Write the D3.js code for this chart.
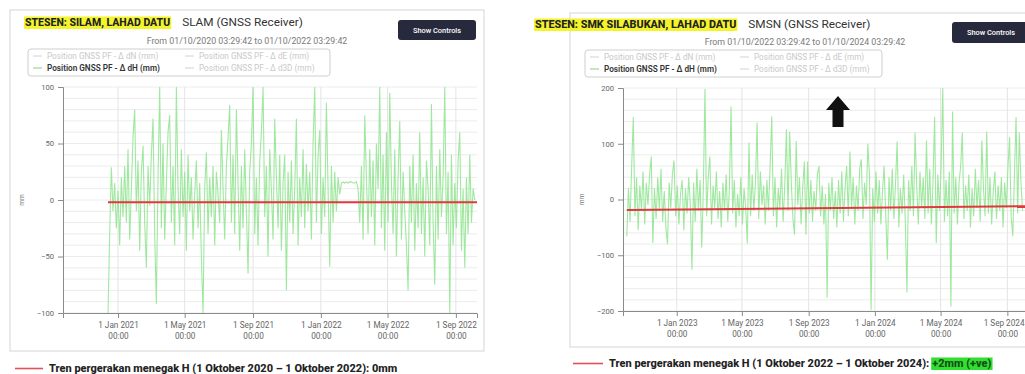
<!DOCTYPE html>
<html><head><meta charset="utf-8">
<script src="https://cdn.jsdelivr.net/npm/d3@7"></script>
<style>
html,body{margin:0;padding:0;background:#fff;}
svg{display:block;font-family:Roboto,"Open Sans",sans-serif;}
</style></head><body>
<svg id="c" width="1025" height="374"></svg>
<script>
// ---- SILAM station (SLAM), vertical displacement dH in mm, one reading every 3 days ----
const slamStart = "2020-12-14";
const slamStepDays = 3;
const slamDH = [
  -100, -30, 29, -10, 15, -25, 8, -40, 20, -15,
  30, -20, 45, -35, 10, 55, 80, -10, 35, -45,
  25, 48, -20, -60, 30, -5, 40, 72, -30, -92,
  20, 100, -25, 50, -35, 15, 60, 75, -20, 30,
  -40, 100, 10, -30, 45, -15, 25, -45, 40, -10,
  20, -35, 5, 35, -25, 15, -50, -100, 10, 42,
  -30, 20, -15, 30, -40, 25, 5, -20, 62, 10,
  -35, 30, 55, 84, -20, 40, -30, 80, 15, -45,
  30, -25, 45, -10, -65, 25, 50, 100, -30, 20,
  -40, 35, 60, 100, -15, 30, -50, 45, 10, -35,
  72, 20, -25, 40, -45, 15, 40, -80, 25, -20,
  35, -30, 10, 72, -40, 20, -15, 45, -25, 32,
  -10, 25, -35, 50, 100, -20, 40, 62, -30, 20,
  -15, 86, 10, -59, 30, -20, 25, -10, 20, 5,
  15, 16, 15, 16, 15, 16, 16, 15, 15, 16,
  10, -20, 30, -35, 75, 20, -30, 45, -15, 35,
  -40, 50, 10, 100, -25, 40, -45, 60, -20, 95,
  15, -30, 45, -50, 20, 70, -35, 25, -10, -40,
  -80, 30, -20, 40, -45, 15, -25, 60, -30, 20,
  -50, 35, 10, -40, 85, -20, -75, 30, -35, 45,
  -15, 20, 100, -30, 25, -100, 40, -40, 15, -25,
  35, 60, -45, 10, -60, 20, -30, 40, -20, 10,
  0
];
const slamTrendDates = ["2020-12-14", "2022-10-09"];
const slamTrend = [-2, -2];
const slamDomain = ["2020-09-24", "2022-10-09"];
const slamXTicks = ["2021-01-01", "2021-05-01", "2021-09-01", "2022-01-01", "2022-05-01", "2022-09-01"];
const slamYTicks = [-100, -50, 0, 50, 100];

// ---- SMK Silabukan station (SMSN) ----
const smsnStart = "2022-10-01";
const smsnStepDays = 3;
const smsnDH = [
  -66, 20, -40, 60, 148, -30, 40, -55, 25, -20,
  50, -45, 30, -10, 45, 77, -78, 20, -35, 40,
  -20, 55, -40, 15, -50, -80, 30, -15, 45, 70,
  -30, 25, -45, 10, 35, -55, 20, -25, 40, -10,
  -126, 30, -40, 55, -20, 35, -86, 20, 198, -30,
  40, 77, -45, 25, -15, 50, -35, 15, -50, 30,
  -20, 45, -40, 20, 167, -25, 35, -50, 10, -30,
  40, -45, 20, -15, -79, 102, -30, 45, -20, 30,
  138, -35, 50, -10, 25, -45, 35, -20, 60, 149,
  -30, 40, -50, 20, -15, 55, -40, 25, 126, -20,
  122, 30, -35, -63, 105, -10, 40, -45, 20, 68,
  -63, 68, -25, 35, -40, 15, -20, 45, 60, -30,
  25, -45, 10, -176, 30, -20, 40, -35, 15, -50,
  35, -25, 50, -40, 20, 60, -30, 86, -15, 40,
  -45, 25, -20, 55, 72, -35, 30, -10, 100, 45,
  -198, 20, -40, 50, -25, 35, -45, 15, 60, -30,
  -108, 40, -20, 55, -35, 30, 104, -50, 20, -25,
  45, -40, -167, 35, -20, 60, -30, 120, 25, -45,
  50, -15, 40, -35, 106, -25, 55, -45, 30, 148,
  -78, 45, -20, 60, 200, -40, 35, -30, 50, -192,
  158, -25, 40, -45, 30, 60, 120, -35, 25, -20,
  45, -50, 20, -30, 55, -15, 35, -40, 106, 20,
  -30, 122, -25, 40, -45, 15, 50, -35, 25, -20,
  40, -50, 30, -15, 55, 112, -30, -66, 45, 148,
  -25, 120, 30, -20
];
const smsnTrendDates = ["2022-10-01", "2024-10-09"];
const smsnTrend = [-19, -12];
const smsnDomain = ["2022-09-24", "2024-10-09"];
const smsnXTicks = ["2023-01-01", "2023-05-01", "2023-09-01", "2024-01-01", "2024-05-01", "2024-09-01"];
const smsnYTicks = [-200, -100, 0, 100, 200];

const legendLabels = [
  "Position GNSS PF - Δ dN (mm)", "Position GNSS PF - Δ dE (mm)",
  "Position GNSS PF - Δ dH (mm)", "Position GNSS PF - Δ d3D (mm)"
];
const activeLegend = 2;

const parse = d3.utcParse("%Y-%m-%d");
const svg = d3.select("#c");
const FONT = "Roboto,'Open Sans',sans-serif";
const W = 1025;

function series(start, step, vals) {
  const t0 = parse(start);
  return vals.map((v, i) => ({ date: d3.utcDay.offset(t0, i * step), v }));
}

function highlightText(g, x, y, txt, size, weight, bg, color) {
  const t = g.append("text").attr("x", x).attr("y", y)
    .attr("font-size", size).attr("font-weight", weight)
    .attr("fill", color).text(txt);
  const b = t.node().getBBox();
  g.insert("rect", () => t.node())
    .attr("x", b.x - 1).attr("y", b.y + 0.5).attr("width", b.width + 2).attr("height", b.height - 0.5)
    .attr("fill", bg);
  return b;
}

function panel(cfg) {
  const g = svg.append("g");
  // card
  g.append("rect").attr("x", cfg.card[0]).attr("y", cfg.card[1])
    .attr("width", cfg.card[2]).attr("height", cfg.card[3])
    .attr("fill", "#fff").attr("stroke", "#dcdcdc").attr("stroke-width", 1.2);

  // headings
  const hb = highlightText(g, cfg.titleX, cfg.titleY, cfg.station, cfg.titleSize, 800, "#f4f42a", "#222");
  g.append("text").attr("x", hb.x + hb.width + 12).attr("y", cfg.titleY)
    .attr("font-size", 11.8).attr("fill", "#333").text(cfg.receiver);
  g.append("text").attr("x", cfg.fromX).attr("y", cfg.fromY).attr("text-anchor", "middle")
    .attr("font-size", 8.8).attr("fill", "#7a7a7a").text(cfg.fromText);

  // button
  g.append("rect").attr("x", cfg.btn[0]).attr("y", cfg.btn[1]).attr("width", cfg.btn[2]).attr("height", cfg.btn[3])
    .attr("rx", 3).attr("fill", "#272a3d");
  g.append("text").attr("x", cfg.btn[0] + 39).attr("y", cfg.btn[1] + cfg.btn[3] / 2 + 2.6)
    .attr("text-anchor", "middle").attr("font-size", 7.4).attr("font-weight", 500)
    .attr("fill", "#fff").text("Show Controls");

  // legend box
  const L = cfg.legend;
  g.append("rect").attr("x", L[0]).attr("y", L[1]).attr("width", L[2]).attr("height", L[3])
    .attr("rx", 3).attr("fill", "none").attr("stroke", "#cfcfcf");
  legendLabels.forEach((lab, i) => {
    const col = i % 2, row = Math.floor(i / 2);
    const lx = L[0] + 5 + col * cfg.legendCol, ly = L[1] + 10 + row * 12;
    const on = i === activeLegend;
    g.append("line").attr("x1", lx).attr("x2", lx + 9).attr("y1", ly - 3).attr("y2", ly - 3)
      .attr("stroke", on ? "#9ad69a" : "#d8d8d8").attr("stroke-width", 1.2);
    g.append("text").attr("x", lx + 14).attr("y", ly).attr("font-size", 8.2)
      .attr("font-weight", on ? 600 : 400)
      .attr("fill", on ? "#333" : "#c9c9c9").text(lab);
  });

  // scales
  const x = d3.scaleUtc().domain(cfg.domain.map(parse)).range([cfg.plot.left, cfg.plot.right]);
  const y = d3.scaleLinear().domain(cfg.yDomain).range([cfg.plot.bottom, cfg.plot.top]);

  // grid
  const grid = g.append("g");
  grid.selectAll("line.h").data(d3.range(cfg.yDomain[0], cfg.yDomain[1] + 0.1, cfg.gridStep))
    .join("line").attr("x1", cfg.plot.left).attr("x2", cfg.plot.right)
    .attr("y1", d => y(d)).attr("y2", d => y(d)).attr("stroke", "#ececec").attr("stroke-width", 1);
  const xt = cfg.xTicks.map(parse);
  grid.selectAll("line.v").data(xt).join("line")
    .attr("x1", d => x(d)).attr("x2", d => x(d)).attr("y1", cfg.plot.top).attr("y2", cfg.plot.bottom)
    .attr("stroke", "#e4e4e4");

  // clip
  const cid = "clip" + cfg.id;
  svg.append("clipPath").attr("id", cid).append("rect")
    .attr("x", cfg.plot.left).attr("y", cfg.plot.top - 1)
    .attr("width", cfg.plot.right - cfg.plot.left).attr("height", cfg.plot.bottom - cfg.plot.top + 1);

  const data = series(cfg.start, cfg.step, cfg.values);
  g.append("path").datum(data).attr("clip-path", `url(#${cid})`)
    .attr("fill", "none").attr("stroke", "#8fe48f").attr("stroke-width", 1.1).attr("stroke-opacity", 0.85)
    .attr("d", d3.line().x(d => x(d.date)).y(d => y(d.v)));

  const trend = cfg.trendDates.map((d, i) => ({ date: parse(d), v: cfg.trend[i] }));
  g.append("path").datum(trend).attr("clip-path", `url(#${cid})`)
    .attr("fill", "none").attr("stroke", "#e0383c").attr("stroke-width", 2)
    .attr("d", d3.line().x(d => x(d.date)).y(d => y(d.v)));

  // axes
  const yAxis = g.append("g").attr("transform", `translate(${cfg.plot.left},0)`)
    .call(d3.axisLeft(y).tickValues(cfg.yTicks).tickSize(5).tickPadding(4));
  yAxis.select(".domain").attr("stroke", "#8a8a8a");
  yAxis.selectAll(".tick line").attr("stroke", "#8a8a8a");
  yAxis.selectAll(".tick text").attr("font-size", 7.6).attr("fill", "#666").attr("font-family", FONT);

  const xAxis = g.append("g").attr("transform", `translate(0,${cfg.plot.bottom})`)
    .call(d3.axisBottom(x).tickValues(xt).tickSize(5).tickPadding(4).tickFormat(d3.utcFormat("%-d %b %Y")));
  xAxis.select(".domain").attr("stroke", "#8a8a8a");
  xAxis.selectAll(".tick line").attr("stroke", "#8a8a8a");
  xAxis.selectAll(".tick text").attr("font-size", 8.2).attr("fill", "#666").attr("font-family", FONT);
  xAxis.selectAll(".tick").append("text").attr("y", 20).attr("dy", "0.71em")
    .attr("fill", "#666").attr("font-size", 8.2).attr("font-family", FONT)
    .text("00:00");
  // keep tick labels inside the page edge
  xAxis.selectAll(".tick").each(function (d) {
    const tx = x(d);
    d3.select(this).selectAll("text").each(function () {
      const w = this.getComputedTextLength();
      const over = tx + w / 2 - (W - 1);
      if (over > 0) d3.select(this).attr("x", -over);
    });
  });

  g.append("text").attr("transform", `translate(${cfg.plot.left - 39},${y(0)}) rotate(-90)`)
    .attr("text-anchor", "middle").attr("font-size", 6.5).attr("fill", "#777").text("mm");

  // trend caption
  g.append("line").attr("x1", cfg.capLine[0]).attr("x2", cfg.capLine[1])
    .attr("y1", cfg.capY - 3.5).attr("y2", cfg.capY - 3.5).attr("stroke", "#e2505a").attr("stroke-width", 1.6);
  const cap = g.append("text").attr("x", cfg.capLine[1] + 6).attr("y", cfg.capY)
    .attr("font-size", 11).attr("font-weight", 800).attr("fill", "#222").text(cfg.caption);
  if (cfg.captionTag) {
    const cb = cap.node().getBBox();
    highlightText(g, cb.x + cb.width + 3, cfg.capY, cfg.captionTag, 11, 800, "#2fe02f", "#1a4a1a");
  }
  return { x, y };
}

panel({
  id: "slam", card: [10, 10, 474, 341],
  station: "STESEN: SILAM, LAHAD DATU", receiver: "SLAM (GNSS Receiver)",
  titleX: 25, titleY: 26, titleSize: 10.5,
  fromText: "From 01/10/2020 03:29:42 to 01/10/2022 03:29:42", fromX: 247, fromY: 44,
  btn: [398, 20, 78, 20],
  legend: [28, 49, 302, 27], legendCol: 152,
  plot: { left: 63, right: 477, top: 87, bottom: 313 },
  domain: slamDomain, yDomain: [-100, 100], gridStep: 10,
  xTicks: slamXTicks, yTicks: slamYTicks,
  start: slamStart, step: slamStepDays, values: slamDH,
  trendDates: slamTrendDates, trend: slamTrend,
  capLine: [15, 43], capY: 372,
  caption: "Tren pergerakan menegak H (1 Oktober 2020 – 1 Oktober 2022): 0mm"
});

panel({
  id: "smsn", card: [570, 13, 470, 334],
  station: "STESEN: SMK SILABUKAN, LAHAD DATU", receiver: "SMSN (GNSS Receiver)",
  titleX: 535, titleY: 28, titleSize: 10.8,
  fromText: "From 01/10/2022 03:29:42 to 01/10/2024 03:29:42", fromX: 805, fromY: 45,
  btn: [952, 22, 80, 21],
  legend: [585, 50, 297, 27], legendCol: 150,
  plot: { left: 623, right: 1028, top: 88, bottom: 311 },
  domain: smsnDomain, yDomain: [-200, 200], gridStep: 20,
  xTicks: smsnXTicks, yTicks: smsnYTicks,
  start: smsnStart, step: smsnStepDays, values: smsnDH,
  trendDates: smsnTrendDates, trend: smsnTrend,
  capLine: [573, 603], capY: 367,
  caption: "Tren pergerakan menegak H (1 Oktober 2022 – 1 Oktober 2024):",
  captionTag: "+2mm (+ve)"
});

// upward-movement marker
const arrow = d3.path();
arrow.moveTo(838, 96); arrow.lineTo(850, 110); arrow.lineTo(843.5, 110); arrow.lineTo(843.5, 127);
arrow.lineTo(832.5, 127); arrow.lineTo(832.5, 110); arrow.lineTo(826, 110); arrow.closePath();
svg.append("path").attr("d", arrow.toString()).attr("fill", "#111");
</script>
</body></html>
